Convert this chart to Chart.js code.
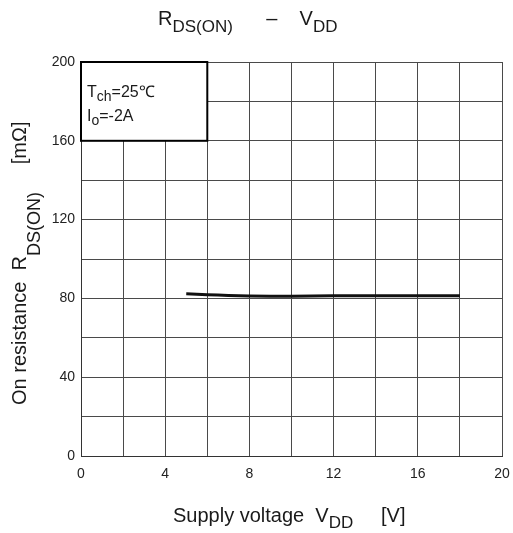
<!DOCTYPE html>
<html>
<head>
<meta charset="utf-8">
<script src="https://cdn.jsdelivr.net/npm/chart.js@4.4.1/dist/chart.umd.min.js"></script>
<style>
    html, body { margin: 0; padding: 0; background: #fff; }
    #wrap { width: 513px; height: 533px; }
</style>
</head>
<body>
<div id="wrap"><canvas id="rdsChart" width="513" height="533"></canvas></div>
<script>
// Data (VDD in V, RDS(ON) in mOhm)
const vddValues = [5, 6, 7, 8, 10, 12, 14, 16, 18];
const rdsValues = [82.3, 81.9, 81.5, 81.2, 81.1, 81.3, 81.4, 81.4, 81.4];

// Axis ranges and tick steps
const xRange = [0, 20];
const yRange = [0, 200];
const xGridStep = 2;
const xLabelStep = 4;
const yGridStep = 20;
const yLabelStep = 40;

// Condition box corners in data units
const boxX = [0, 6];
const boxY = [160, 200];

const FONT = '"Liberation Sans", Arial, sans-serif';
Chart.defaults.font.family = FONT;

// draws text pieces one after another, subscripts smaller and lower
function drawRich(ctx, parts, x, y, size, subSize, subDy) {
    let cx = x;
    parts.forEach(p => {
        ctx.font = (p.sub ? subSize : size) + "px " + FONT;
        ctx.fillText(p.t, cx, y + (p.sub ? subDy : 0));
        cx += ctx.measureText(p.t).width;
    });
}

const textPlugin = {
    id: "richText",
    afterDatasetsDraw(chart) {
        const ctx = chart.ctx;
        const xs = chart.scales.x;
        const ys = chart.scales.y;

        // condition box
        const bx0 = xs.getPixelForValue(boxX[0]);
        const bx1 = xs.getPixelForValue(boxX[1]);
        const by0 = ys.getPixelForValue(boxY[1]);
        const by1 = ys.getPixelForValue(boxY[0]);
        ctx.save();
        ctx.fillStyle = "#fff";
        ctx.fillRect(bx0, by0, bx1 - bx0, by1 - by0);
        ctx.strokeStyle = "#000";
        ctx.lineWidth = 2;
        ctx.strokeRect(bx0, by0, bx1 - bx0, by1 - by0);

        ctx.fillStyle = "#1a1a1a";
        ctx.textBaseline = "alphabetic";
        ctx.textAlign = "left";
        drawRich(ctx, [{ t: "T" }, { t: "ch", sub: true }, { t: "=25℃" }], bx0 + 6, by0 + 35, 16, 14, 4);
        drawRich(ctx, [{ t: "I" }, { t: "o", sub: true }, { t: "=-2A" }], bx0 + 6, by0 + 59, 16, 14, 4);

        // title
        drawRich(ctx, [{ t: "R" }, { t: "DS(ON)", sub: true }, { t: "      –    " }, { t: "V" }, { t: "DD", sub: true }],
            158, 25, 20, 17, 7);

        // x axis title
        drawRich(ctx, [{ t: "Supply voltage  V" }, { t: "DD", sub: true }, { t: "     [V]" }],
            173, 522, 20, 17, 6);

        // y axis title, rotated
        ctx.translate(26, 405);
        ctx.rotate(-Math.PI / 2);
        drawRich(ctx, [{ t: "On resistance  R" }, { t: "DS(ON)", sub: true }, { t: "     [mΩ]" }],
            0, 0, 20, 18, 14);
        ctx.restore();
    }
};

new Chart(document.getElementById("rdsChart").getContext("2d"), {
    type: "line",
    data: {
        datasets: [{
            data: vddValues.map((v, i) => ({ x: v, y: rdsValues[i] })),
            borderColor: "#111",
            borderWidth: 3,
            pointRadius: 0,
            tension: 0.2,
            fill: false
        }]
    },
    options: {
        responsive: false,
        animation: false,
        layout: { padding: { top: 62, right: 11, left: 0, bottom: 0 } },
        plugins: {
            legend: { display: false },
            title: { display: false },
            tooltip: { enabled: false }
        },
        scales: {
            x: {
                type: "linear",
                min: xRange[0],
                max: xRange[1],
                afterFit(scale) {
                    scale.height = 77;
                    // labels may overhang, layout padding handles the room
                    scale.paddingLeft = 0;
                    scale.paddingRight = 0;
                },
                grid: { color: "#4a4a4a", lineWidth: 1, drawTicks: false },
                border: { color: "#333", width: 1 },
                ticks: {
                    stepSize: xGridStep,
                    padding: 10,
                    color: "#222",
                    font: { size: 14 },
                    maxRotation: 0,
                    autoSkip: false,
                    callback: v => (v % xLabelStep === 0 ? v : "")
                }
            },
            y: {
                min: yRange[0],
                max: yRange[1],
                afterFit(scale) { scale.width = 81; },
                grid: { color: "#4a4a4a", lineWidth: 1, drawTicks: false },
                border: { color: "#333", width: 1 },
                ticks: {
                    stepSize: yGridStep,
                    padding: 6,
                    color: "#222",
                    font: { size: 14 },
                    autoSkip: false,
                    callback: v => (v % yLabelStep === 0 ? v : "")
                }
            }
        }
    },
    plugins: [textPlugin]
});
</script>
</body>
</html>
